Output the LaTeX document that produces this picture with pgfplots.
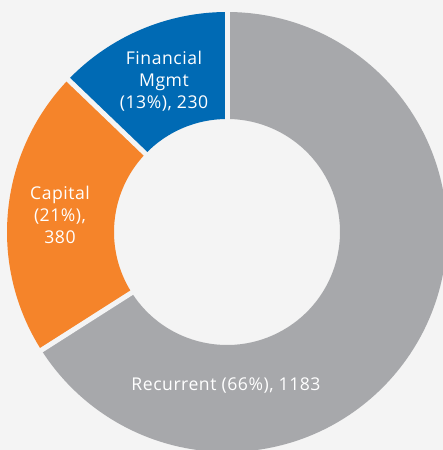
\documentclass[border=0pt]{standalone}
\usepackage{pgfplots}
\pgfplotsset{compat=1.18}
\usepackage{pgfplotstable}
\usepackage{fontspec}
\setmainfont{Open Sans}[LetterSpace=3]
\definecolor{bgc}{HTML}{F4F4F4}
\definecolor{grayc}{HTML}{A7A8AB}
\definecolor{orangec}{HTML}{F5842A}
\definecolor{bluec}{HTML}{006AB4}
\pgfplotstableread{
name value
Recurrent 1183
Capital 380
Financial 230
}\donutdata
\newcommand\cx{227}
\newcommand\cy{218}
\newcommand\Ro{220}
\newcommand\Ri{113}
\newcommand\sector[3]{%
  \fill[#1] (axis cs:{\cx+\Ro*cos(#2)},{\cy+\Ro*sin(#2)})
    arc[start angle=#2, end angle=#3, radius=\Ro pt]
    -- (axis cs:{\cx+\Ri*cos(#3)},{\cy+\Ri*sin(#3)})
    arc[start angle=#3, end angle=#2, radius=\Ri pt] -- cycle;}
\newcommand\sep[1]{%
  \draw[bgc, line width=5pt] (axis cs:{\cx+(\Ri-8)*cos(#1)},{\cy+(\Ri-8)*sin(#1)})
    -- (axis cs:{\cx+(\Ro+8)*cos(#1)},{\cy+(\Ro+8)*sin(#1)});}
\begin{document}
\begin{tikzpicture}
\pgfplotstablegetelem{0}{value}\of\donutdata \let\vA\pgfplotsretval
\pgfplotstablegetelem{1}{value}\of\donutdata \let\vB\pgfplotsretval
\pgfplotstablegetelem{2}{value}\of\donutdata \let\vC\pgfplotsretval
\pgfmathsetmacro\tot{\vA+\vB+\vC}
\pgfmathsetmacro\aA{90}
\pgfmathsetmacro\aB{90-360*(\vA/\tot)}
\pgfmathsetmacro\aC{\aB-360*(\vB/\tot)}
\pgfmathsetmacro\aD{\aC-360*(\vC/\tot)}
\useasboundingbox (0,0) rectangle (443pt,450pt);
\fill[bgc] (0,0) rectangle (443pt,450pt);
\begin{axis}[x=1pt, y=1pt, xmin=0, xmax=443, ymin=0, ymax=450,
  hide axis, at={(0pt,0pt)}, anchor=origin, clip=true]
\sector{grayc}{\aA}{\aB}
\sector{orangec}{\aB}{\aC}
\sector{bluec}{\aC}{\aD}
\sep{\aA}
\sep{\aB}
\sep{\aC}
\node[text=white, align=center, font=\fontsize{17.6}{22}\selectfont] at (axis cs:226,64) {Recurrent (66\%), 1183};
\node[text=white, align=center, font=\fontsize{17.6}{22}\selectfont] at (axis cs:60,235) {Capital\\(21\%),\\380};
\node[text=white, align=center, font=\fontsize{17.6}{22}\selectfont] at (axis cs:164,369) {Financial\\Mgmt\\(13\%), 230};
\end{axis}
\end{tikzpicture}
\end{document}
